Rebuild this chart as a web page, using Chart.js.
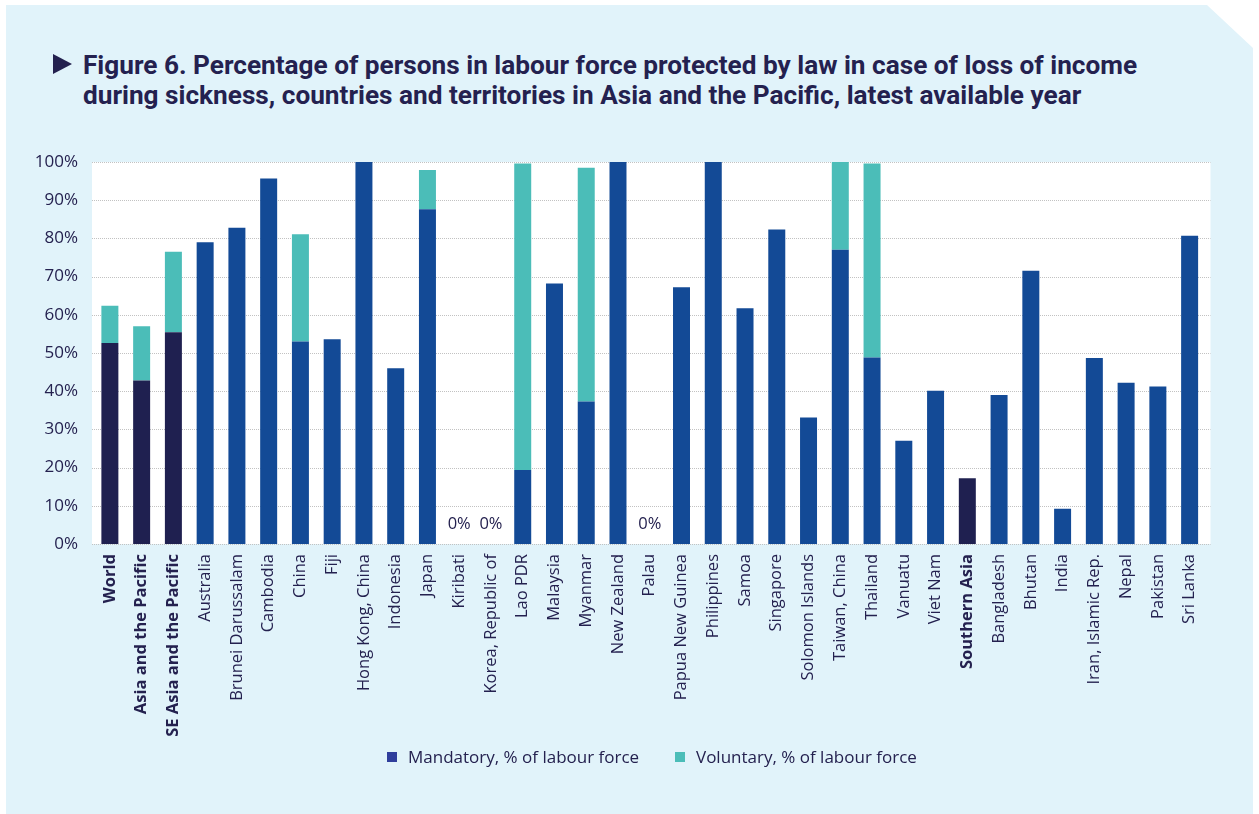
<!DOCTYPE html>
<html>
<head>
<meta charset="utf-8">
<script src="https://cdn.jsdelivr.net/npm/chart.js@4.4.1/dist/chart.umd.min.js"></script>
<style>
html, body { margin: 0; padding: 0; background: #fff; }
body { width: 1259px; height: 814px; position: relative; overflow: hidden; font-family: "Open Sans", sans-serif; }
#panel { position: absolute; left: 6px; top: 5px; width: 1247px; height: 809px; background: #e1f3fa;
  clip-path: polygon(0 0, 1201px 0, 1247px 43px, 1247px 100%, 0 100%); }
#tri { position: absolute; left: 53px; top: 54px; width: 0; height: 0;
  border-top: 10.5px solid transparent; border-bottom: 10.5px solid transparent; border-left: 19px solid #24214f; }
#title { position: absolute; left: 83px; top: 50px; font-family: Roboto, sans-serif; font-weight: 700;
  font-size: 26.2px; line-height: 30px; color: #24214f; white-space: nowrap; }
#wrap { position: absolute; left: 0; top: 0; width: 1259px; height: 814px; }
.lg { position: absolute; top: 745px; font-size: 17px; line-height: 24px; color: #24214f; white-space: nowrap; }
.lg i { position: absolute; left: -21px; top: 7px; width: 10px; height: 10px; }
</style>
</head>
<body>
<div id="panel"></div>
<div id="tri"></div>
<div id="title">Figure 6. Percentage of persons in labour force protected by law in case of loss of income<br>during sickness, countries and territories in Asia and the Pacific, latest available year</div>
<div id="wrap"><canvas id="chart" width="1259" height="814"></canvas></div>
<div class="lg" style="left:408px"><i style="background:#2f3e9c"></i>Mandatory, % of labour force</div>
<div class="lg" style="left:696px"><i style="background:#4bbdb8"></i>Voluntary, % of labour force</div>
<script>
const categories = ['World', 'Asia and the Pacific', 'SE Asia and the Pacific', 'Australia', 'Brunei Darussalam',
  'Cambodia', 'China', 'Fiji', 'Hong Kong, China', 'Indonesia', 'Japan', 'Kiribati', 'Korea, Republic of',
  'Lao PDR', 'Malaysia', 'Myanmar', 'New Zealand', 'Palau', 'Papua New Guinea', 'Philippines', 'Samoa',
  'Singapore', 'Solomon Islands', 'Taiwan, China', 'Thailand', 'Vanuatu', 'Viet Nam', 'Southern Asia',
  'Bangladesh', 'Bhutan', 'India', 'Iran, Islamic Rep.', 'Nepal', 'Pakistan', 'Sri Lanka'];
const mandatory = [52.6, 42.8, 55.4, 79.0, 82.8, 95.7, 53.0, 53.6, 100, 46.0, 87.6, 0, 0, 19.4, 68.2, 37.3, 100, 0,
  67.2, 100, 61.7, 82.3, 33.1, 77.0, 48.8, 27.0, 40.1, 17.2, 39.0, 71.5, 9.2, 48.7, 42.2, 41.2, 80.7];
const voluntary = [9.8, 14.2, 21.1, 0, 0, 0, 28.1, 0, 0, 0, 10.3, 0, 0, 80.2, 0, 61.2, 0, 0,
  0, 0, 0, 0, 0, 23.0, 50.8, 0, 0, 0, 0, 0, 0, 0, 0, 0, 0];
const aggregates = ['World', 'Asia and the Pacific', 'SE Asia and the Pacific', 'Southern Asia'];

const textColor = '#24214f';
const blue = '#134a96';
const navy = '#1f2050';
const teal = '#4bbdb8';

// white plot area + dotted gridlines, slightly wider than the bar area
const plotBg = {
  id: 'plotBg',
  beforeDatasetsDraw(chart) {
    const { ctx, chartArea: a, scales: { y } } = chart;
    ctx.save();
    ctx.fillStyle = '#fff';
    ctx.fillRect(a.left - 2, a.top, a.right - a.left + 7, a.bottom - a.top);
    ctx.strokeStyle = '#c2c2c2';
    ctx.lineWidth = 1;
    ctx.setLineDash([1, 1]);
    y.ticks.forEach(t => {
      const py = Math.round(y.getPixelForValue(t.value)) + 0.5;
      ctx.beginPath();
      ctx.moveTo(a.left - 2, py);
      ctx.lineTo(a.right + 5, py);
      ctx.stroke();
    });
    ctx.restore();
  }
};

const zeroLabels = {
  id: 'zeroLabels',
  afterDatasetsDraw(chart) {
    const { ctx, scales: { x, y } } = chart;
    ctx.save();
    ctx.font = '16.5px "Open Sans"';
    ctx.fillStyle = textColor;
    ctx.textAlign = 'center';
    ctx.textBaseline = 'middle';
    categories.forEach((c, i) => {
      if (mandatory[i] + voluntary[i] === 0) {
        ctx.fillText('0%', x.getPixelForValue(i), y.getPixelForValue(0) - 20);
      }
    });
    ctx.restore();
  }
};

new Chart(document.getElementById('chart'), {
  type: 'bar',
  data: {
    labels: categories,
    datasets: [
      {
        label: 'Mandatory, % of labour force',
        data: mandatory,
        backgroundColor: categories.map(c => aggregates.includes(c) ? navy : blue),
        categoryPercentage: 1,
        barPercentage: 0.535
      },
      {
        label: 'Voluntary, % of labour force',
        data: voluntary,
        backgroundColor: teal,
        categoryPercentage: 1,
        barPercentage: 0.535
      }
    ]
  },
  options: {
    responsive: false,
    animation: false,
    layout: { padding: { left: 0, right: 53.5, top: 162, bottom: 70 } },
    plugins: { legend: { display: false }, tooltip: { enabled: false } },
    scales: {
      x: {
        stacked: true,
        grid: { display: false, drawTicks: false },
        border: { display: false },
        ticks: {
          autoSkip: false, minRotation: 90, maxRotation: 90, padding: 10, color: textColor,
          font: ctx => ({ family: 'Open Sans', size: 16.5,
            weight: aggregates.includes(categories[ctx.index]) ? 'bold' : 'normal' })
        },
        afterFit: s => { s.height = 200; }
      },
      y: {
        stacked: true, min: 0, max: 100,
        grid: { display: false, drawTicks: false },
        border: { display: false },
        ticks: { stepSize: 10, padding: 16, color: textColor, font: { family: 'Open Sans', size: 17 },
          callback: v => v + '%' },
        afterFit: s => { s.width = 94; }
      }
    }
  },
  plugins: [plotBg, zeroLabels]
});
</script>
</body>
</html>
